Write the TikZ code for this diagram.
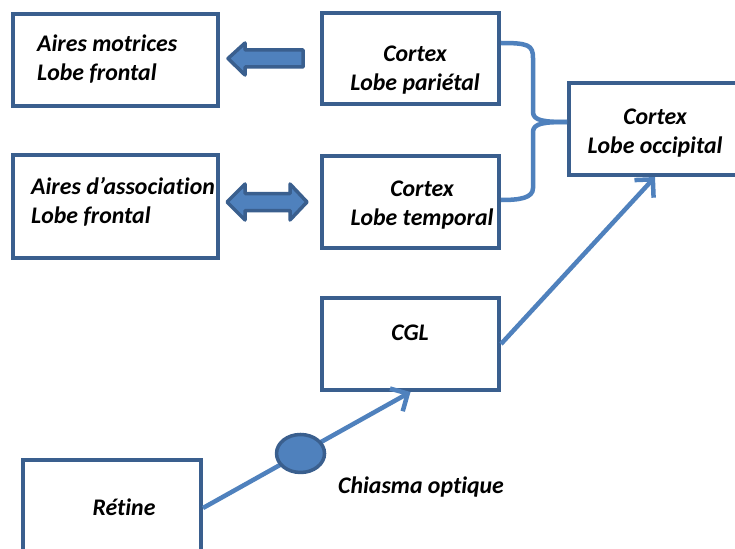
\documentclass[tikz,border=0pt]{standalone}
\usepackage{fontspec}
\setmainfont{Carlito}[Ligatures=NoCommon]
\usetikzlibrary{calc,arrows.meta,shapes.geometric}
\definecolor{boxblue}{HTML}{3A5F8E}
\definecolor{linkblue}{HTML}{4F81BD}
\tikzset{
x=1pt, y=-1pt,
box/.style={rectangle,line width=4pt,draw=boxblue,inner sep=0pt},
txt/.style={font=\fontsize{23.8}{29}\selectfont\bfseries\itshape,inner sep=0pt},
link/.style={line width=4.5pt,draw=linkblue},
linkarrow/.style={link,-{Straight Barb[length=13pt,width=26pt]}},
blockarrow/.style={line width=3.5pt,draw=boxblue,fill=linkblue,line join=round},
chiasma/.style={ellipse,line width=3.5pt,draw=boxblue,fill=linkblue,minimum width=48pt,minimum height=38pt,inner sep=0pt},
}

\begin{document}
\begin{tikzpicture}
\useasboundingbox (0,0) rectangle (735,548);
\clip (0,0) rectangle (735,548);
\fill[white] (0,0) rectangle (735,548);

\node[box,minimum width=205,minimum height=92] (motrices) at (115.5,60) {};
\node[box,minimum width=205,minimum height=103] (association) at (115.5,206.5) {};
\node[box,minimum width=177,minimum height=91] (parietal) at (410.5,58.5) {};
\node[box,minimum width=177,minimum height=92] (temporal) at (410.5,202) {};
\node[box,minimum width=172,minimum height=92] (occipital) at (655,129) {};
\node[box,minimum width=177,minimum height=92] (cgl) at (410.5,344) {};
\node[box,minimum width=178,minimum height=96] (retine) at (112,508) {};

\node[txt,anchor=west,align=left] at (37,59.5) {Aires motrices\\Lobe frontal};
\node[txt,anchor=west,align=left] at (31,202) {Aires d’association\\Lobe frontal};
\node[txt,align=center] at (415,70) {Cortex\\Lobe pariétal};
\node[txt,align=center] at (422,205.5) {Cortex\\Lobe temporal};
\node[txt,align=center] at (655,133) {Cortex\\Lobe occipital};
\node[txt] at (410,333) {CGL};
\node[txt] at (124,507) {Rétine};

\draw[blockarrow] (303,50) -- (245,50) -- (245,43) -- (228,58.5) -- (245,75) -- (245,67) -- (303,67) -- cycle;
\draw[blockarrow] (245,193.5) -- (290,193.5) -- (290,184) -- (307,202) -- (290,220) -- (290,210.5) -- (245,210.5) -- (245,220) -- (227,202) -- (245,184) -- cycle;

\coordinate (junction) at ($(occipital.west)+(0,-7)$);
\draw[link] ($(parietal.east)+(0,-15.5)$) .. controls (528,43) and (533,45) .. (533,58) -- (533,112) .. controls (533,121) and (545,122) .. (junction);
\draw[link] (junction) .. controls (545,122) and (533,123) .. (533,132) -- (533,188) .. controls (533,198) and (520,200) .. ($(temporal.east)+(0,-2)$);

\draw[linkarrow] (cgl.east) -- (occipital.south);
\draw[linkarrow] (retine.east) -- node[chiasma,pos=0.47] (chiasme) {} (cgl.south);
\node[txt,anchor=west] (chiasmalbl) at (338,487) {Chiasma optique};
\end{tikzpicture}
\end{document}
